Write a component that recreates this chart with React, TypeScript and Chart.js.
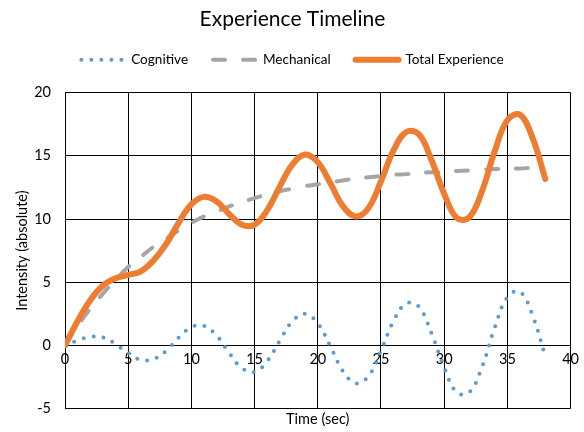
import React, { useEffect, useRef } from "react";
import { Chart, registerables } from "chart.js";

Chart.register(...registerables);

const times = [0, 1, 2, 3, 4, 5, 6, 7, 8, 9, 10, 11, 12, 13, 14, 15, 16, 17, 18, 19, 20, 21, 22, 23, 24, 25, 26, 27, 28, 29, 30, 31, 32, 33, 34, 35, 36, 37, 38];

const cognitive = [0, 0.38, 0.68, 0.63, 0.11, -0.62, -1.14, -1.08, -0.44, 0.62, 1.45, 1.55, 0.78, -0.62, -1.8, -2.1, -1.25, 0.38, 1.93, 2.5, 1.75, -0.08, -2.05, -3.0, -2.45, -0.41, 1.94, 3.33, 3.05, 0.95, -1.75, -3.72, -3.7, -1.68, 1.42, 3.82, 4.25, 2.35, -0.87];

const mechanical = [0, 1.55, 2.9, 4.1, 5.2, 6.2, 7.0, 7.8, 8.45, 9.1, 9.7, 10.2, 10.6, 11.0, 11.35, 11.65, 11.95, 12.2, 12.4, 12.6, 12.75, 12.9, 13.05, 13.2, 13.3, 13.4, 13.5, 13.55, 13.65, 13.7, 13.75, 13.8, 13.85, 13.9, 13.95, 14.0, 14.0, 14.05, 14.05];

const totalExperience = [0, 1.93, 3.58, 4.73, 5.31, 5.58, 5.86, 6.72, 8.01, 9.72, 11.15, 11.75, 11.38, 10.38, 9.55, 9.55, 10.7, 12.58, 14.33, 15.1, 14.5, 12.82, 11.0, 10.2, 10.85, 12.99, 15.44, 16.88, 16.7, 14.65, 12.0, 10.08, 10.15, 12.22, 15.37, 17.82, 18.25, 16.4, 13.18];

const seriesNames = ["Cognitive", "Mechanical", "Total Experience"];
const chartTitle = "Experience Timeline";
const xTitle = "Time (sec)";
const yTitle = "Intensity (absolute)";

const FONT = "Lato";

function toPoints(vals: number[]) {
  return vals.map((v, i) => ({ x: times[i], y: v }));
}

export default function App() {
  const ref = useRef<HTMLCanvasElement | null>(null);

  useEffect(() => {
    document.body.style.margin = "0";
    const canvas = ref.current;
    if (!canvas) return;
    const chart = new Chart(canvas, {
      type: "line",
      data: {
        datasets: [
          {
            label: seriesNames[0],
            data: toPoints(cognitive),
            xAxisID: "x",
            yAxisID: "y",
            borderColor: "#5B9BD5",
            backgroundColor: "#5B9BD5",
            borderWidth: 4,
            borderDash: [0, 10],
            borderCapStyle: "round",
            pointRadius: 0,
            pointHoverRadius: 0,
            tension: 0.4,
            fill: false,
            order: 3,
          },
          {
            label: seriesNames[1],
            data: toPoints(mechanical),
            xAxisID: "x",
            yAxisID: "y",
            borderColor: "#A5A5A5",
            backgroundColor: "#A5A5A5",
            borderWidth: 4,
            borderDash: [12, 18],
            borderCapStyle: "round",
            pointRadius: 0,
            pointHoverRadius: 0,
            tension: 0.4,
            fill: false,
            order: 2,
          },
          {
            label: seriesNames[2],
            data: toPoints(totalExperience),
            xAxisID: "x",
            yAxisID: "y",
            borderColor: "#ED7D31",
            backgroundColor: "#ED7D31",
            borderWidth: 6,
            borderCapStyle: "round",
            borderJoinStyle: "round",
            pointRadius: 0,
            pointHoverRadius: 0,
            tension: 0.4,
            fill: false,
            order: 1,
          },
        ],
      },
      options: {
        responsive: false,
        animation: false,
        devicePixelRatio: 1,
        layout: { padding: { left: 14, right: 13, top: 0, bottom: 4 } },
        plugins: {
          title: {
            display: true,
            text: chartTitle,
            color: "#000",
            font: { family: FONT, size: 21, weight: "normal" },
            padding: { top: 6.4, bottom: -3.6 },
          },
          legend: {
            display: true,
            position: "top",
            labels: {
              usePointStyle: true,
              pointStyleWidth: 43,
              color: "#000",
              font: { family: FONT, size: 13.6 },
              padding: 25,
              generateLabels: (c: any) =>
                c.data.datasets.map((ds: any, i: number) => ({
                  text: ds.label,
                  fillStyle: ds.borderColor,
                  strokeStyle: ds.borderColor,
                  lineWidth: ds.borderWidth,
                  lineDash: ds.borderDash || [],
                  lineCap: ds.borderCapStyle || "butt",
                  pointStyle: "line",
                  hidden: false,
                  datasetIndex: i,
                  fontColor: "#000",
                })),
            },
          },
          tooltip: { enabled: false },
        },
        scales: {
          x: {
            type: "linear",
            position: { y: 0 } as any,
            min: 0,
            max: 40,
            ticks: {
              stepSize: 5,
              color: "#000",
              font: { family: FONT, size: 14.5 },
              padding: 5,
              maxRotation: 0,
            },
            grid: { color: "#000", lineWidth: 1, drawTicks: false },
            border: { display: false },
          },
          spacer: {
            type: "linear",
            position: "top",
            min: 0,
            max: 40,
            ticks: { display: false },
            grid: { display: false, drawTicks: false },
            border: { display: false },
            title: {
              display: true,
              text: " ",
              font: { family: FONT, size: 10 },
              padding: { top: 0, bottom: 4 },
            },
          },
          xTitle: {
            type: "linear",
            position: "bottom",
            min: 0,
            max: 40,
            ticks: { display: false },
            grid: { display: false, drawTicks: false },
            border: { display: false },
            title: {
              display: true,
              text: xTitle,
              color: "#000",
              font: { family: FONT, size: 14.5 },
              padding: { top: 2, bottom: 0 },
            },
          },
          y: {
            type: "linear",
            min: -5,
            max: 20,
            afterFit: (scale: any) => {
              scale.width = 51;
            },
            ticks: {
              stepSize: 5,
              color: "#000",
              font: { family: FONT, size: 14.5 },
              padding: 14,
            },
            grid: { color: "#000", lineWidth: 1, drawTicks: false },
            border: { display: true, color: "#000" },
            title: {
              display: true,
              text: yTitle,
              color: "#000",
              font: { family: FONT, size: 14.5 },
              padding: { top: 0, bottom: 5 },
            },
          },
        },
      },
    });
    return () => chart.destroy();
  }, []);

  return (
    <div style={{ position: "fixed", left: 0, top: 0, width: 584, height: 432, background: "#fff" }}>
      <canvas ref={ref} width={584} height={432} style={{ width: 584, height: 432 }} />
    </div>
  );
}
